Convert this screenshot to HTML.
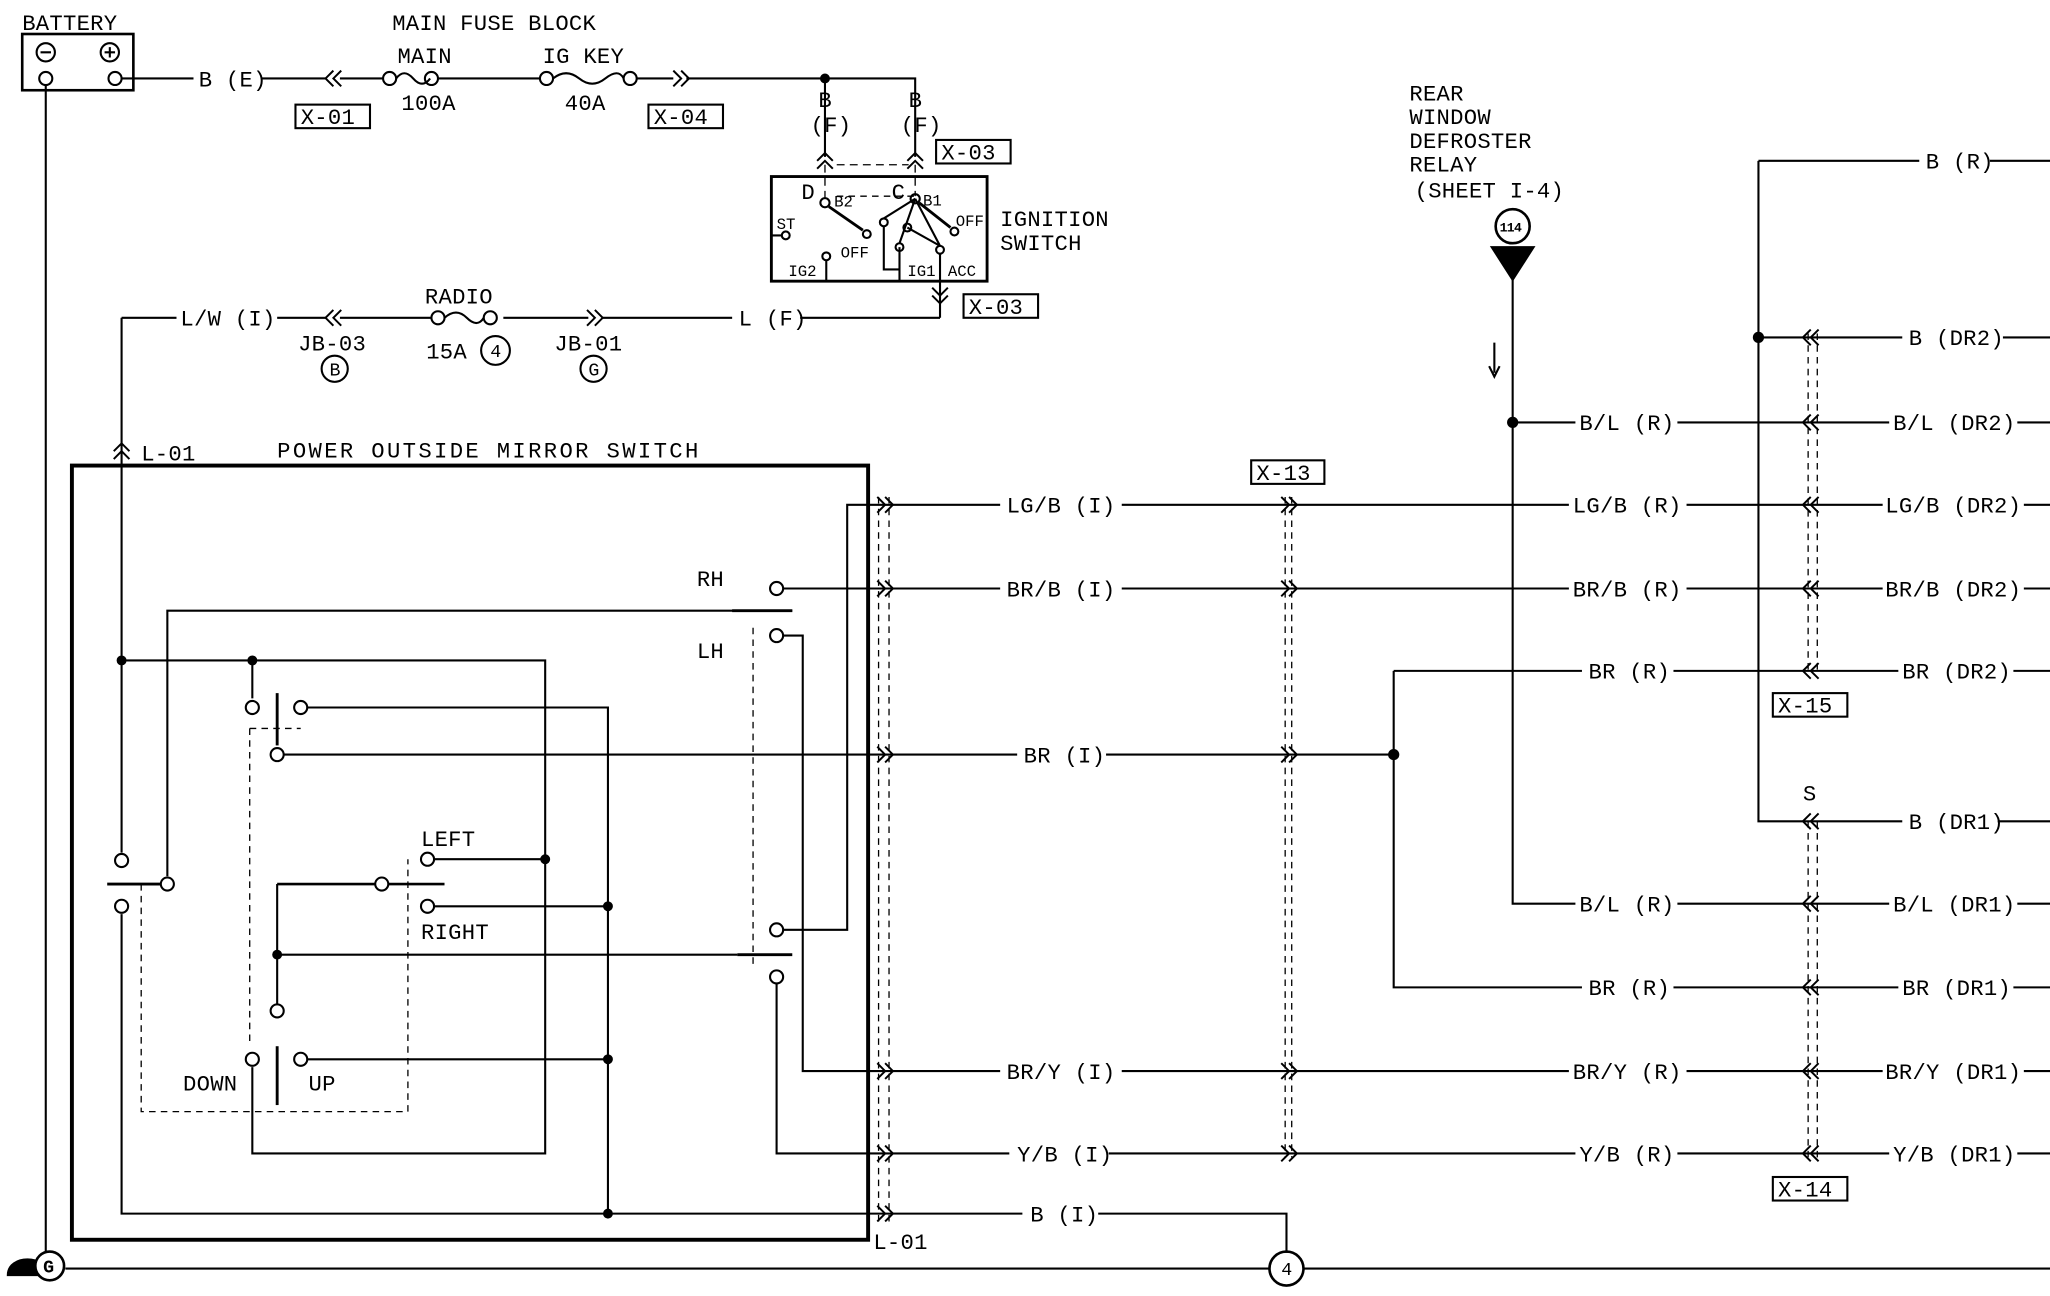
<!DOCTYPE html>
<html><head><meta charset="utf-8"><style>
html,body{margin:0;padding:0;background:#fff;}
svg{display:block;}
text{font-family:"Liberation Mono","DejaVu Sans Mono",monospace;font-size:17px;letter-spacing:0.2px;fill:#000;}
.s{font-size:12px;letter-spacing:0;}
.t{font-size:10px;letter-spacing:-0.5px;font-weight:bold;}
.m{font-size:14px;letter-spacing:0;}
</style></head><body>
<svg width="2050" height="1296" viewBox="0 0 1568 991" preserveAspectRatio="none" xmlns="http://www.w3.org/2000/svg">
<defs>
<symbol id="r" overflow="visible"><path d="M-5 -6 L1 0 L-5 6 M1 -6 L7 0 L1 6" fill="none" stroke="#000" stroke-width="1.5"/></symbol>
<symbol id="l" overflow="visible"><path d="M5 -6 L-1 0 L5 6 M-1 -6 L-7 0 L-1 6" fill="none" stroke="#000" stroke-width="1.5"/></symbol>
<symbol id="u" overflow="visible"><path d="M-6 5 L0 -1 L6 5 M-6 -1 L0 -7 L6 -1" fill="none" stroke="#000" stroke-width="1.5"/></symbol>
<symbol id="d" overflow="visible"><path d="M-6 -5 L0 1 L6 -5 M-6 1 L0 7 L6 1" fill="none" stroke="#000" stroke-width="1.5"/></symbol>
</defs>
<g fill="none" stroke="#000" stroke-width="1.6">
<rect x="17" y="26" width="85" height="43" stroke-width="2"/>
<circle cx="35" cy="40" r="7"/><circle cx="84" cy="40" r="7"/>
<path d="M31 40h8M80 40h8M84 36v8"/>
<circle cx="35" cy="60" r="5"/><circle cx="88" cy="60" r="5"/>
<path d="M35 65V968"/>
<path d="M93 60H148M200 60H250M260 60H293M335 60H413M487 60H515M525 60H700V120M631 60V120"/>
<circle cx="631" cy="60" r="3" fill="#000"/>
<circle cx="298" cy="60" r="5"/><circle cx="330" cy="60" r="5"/><path d="M303 60q6 -8 13 0t13 0"/>
<circle cx="418" cy="60" r="5"/><circle cx="482" cy="60" r="5"/><path d="M423 60q10 -8 20 0t20 0t14 0"/>
<rect x="226" y="80" width="57" height="18"/><rect x="496" y="80" width="57" height="18"/>
<rect x="716" y="107" width="57" height="18"/><rect x="737" y="225" width="57" height="18"/>
<path d="M631 126V155M700 126V150M640 126H695" stroke-dasharray="6 4" stroke-width="1"/>
<rect x="590" y="135" width="165" height="80" stroke-width="2.2"/>
<circle cx="631" cy="155" r="3.5"/><circle cx="700" cy="152" r="3.5"/>
<path d="M634 158L660 176M703 155L727 174" stroke-width="2.2"/>
<circle cx="663" cy="179" r="3"/><circle cx="730" cy="177" r="3"/><circle cx="676" cy="170" r="3"/>
<circle cx="694" cy="174" r="3"/><circle cx="688" cy="189" r="3"/><circle cx="719" cy="191" r="3"/>
<circle cx="632" cy="196" r="3"/><circle cx="601" cy="180" r="3"/>
<path d="M590 180H598M632 199V215M700 152L676 167M700 152L688 186M694 174L719 188M700 152L719 188M676 173V206H688V189M688 206V215M719 194V243"/>
<path d="M640 150H700" stroke-dasharray="5 4" stroke-width="1"/>
<path d="M93 243H135M212 243H250M260 243H330M385 243H450M460 243H560M612 243H719"/>
<circle cx="335" cy="243" r="5"/><circle cx="375" cy="243" r="5"/><path d="M340 243q9 -8 17 0t13 0"/>
<circle cx="379" cy="268" r="11"/><circle cx="256" cy="282" r="10"/><circle cx="454" cy="282" r="10"/>
<path d="M93 243V652M93 699V928H664"/>
<rect x="55" y="356" width="609" height="592" stroke-width="3"/>
<path d="M93 505H417V882H193V816M193 505V534"/>
<circle cx="93" cy="505" r="3" fill="#000"/><circle cx="193" cy="505" r="3" fill="#000"/>
<path d="M128 670V467H606"/>
<circle cx="93" cy="658" r="5"/><circle cx="93" cy="693" r="5"/><circle cx="128" cy="676" r="5"/>
<path d="M82 676H123" stroke-width="2.2"/>
<circle cx="193" cy="541" r="5"/><circle cx="230" cy="541" r="5"/><path d="M235 541H465V928"/>
<path d="M212 530V570" stroke-width="2.2"/><circle cx="212" cy="577" r="5"/><path d="M217 577H664"/>
<circle cx="327" cy="657" r="5"/><path d="M332 657H417"/><circle cx="417" cy="657" r="3" fill="#000"/>
<circle cx="327" cy="693" r="5"/><path d="M332 693H465"/><circle cx="465" cy="693" r="3" fill="#000"/>
<circle cx="292" cy="676" r="5"/><path d="M212 676H287M297 676H340" stroke-width="2"/>
<path d="M212 676V768"/><circle cx="212" cy="730" r="3" fill="#000"/><path d="M212 730H564"/>
<circle cx="212" cy="773" r="5"/><circle cx="193" cy="810" r="5"/><circle cx="230" cy="810" r="5"/>
<path d="M212 800V845" stroke-width="2.2"/><path d="M235 810H465"/><circle cx="465" cy="810" r="3" fill="#000"/><circle cx="465" cy="928" r="3" fill="#000"/>
<path d="M564 730H606" stroke-width="2.2"/><path d="M560 467H606" stroke-width="2.2"/>
<circle cx="594" cy="450" r="5"/><circle cx="594" cy="486" r="5"/><circle cx="594" cy="711" r="5"/><circle cx="594" cy="747" r="5"/>
<path d="M599 450H664M599 486H614V819H664M599 711H648V386H664M594 752V882H664"/>
<path d="M576 480V740M108 676V850H312V657M191 557H230M191 557V800" stroke-dasharray="5 4" stroke-width="1"/>
<path d="M664 386H765M858 386H1200M1290 386H1440M1548 386H1568"/>
<path d="M664 450H765M858 450H1200M1290 450H1440M1548 450H1568"/>
<path d="M1066 513H1210M1280 513H1452M1540 513H1568"/>
<path d="M664 577H778M846 577H1066M1066 513V755H1210M1280 755H1452M1540 755H1568"/>
<circle cx="1066" cy="577" r="3.5" fill="#000"/>
<path d="M1345 123H1468M1522 123H1568M1345 123V628H1455M1528 628H1568M1345 258H1455M1532 258H1568"/>
<circle cx="1345" cy="258" r="3.5" fill="#000"/>
<path d="M1157 210V691H1205M1283 691H1445M1543 691H1568M1157 323H1205M1283 323H1445M1543 323H1568"/>
<circle cx="1157" cy="323" r="3.5" fill="#000"/>
<path d="M1141 189L1173 189L1157 214Z" fill="#000"/><circle cx="1157" cy="173" r="13" stroke-width="2"/>
<path d="M1143 262V285M1139 280L1143 288L1147 280"/>
<path d="M664 819H765M858 819H1200M1290 819H1440M1548 819H1568"/>
<path d="M664 882H772M848 882H1205M1283 882H1445M1543 882H1568"/>
<path d="M664 928H782M840 928H984V958"/>
<path d="M50 970H971M997 970H1568"/><circle cx="984" cy="970" r="13" stroke-width="2"/>
<path d="M672 380V935M680 380V935M983 380V885M988 380V885M1383 255V515M1390 255V515M1383 628V885M1390 628V885" stroke-dasharray="5 4" stroke-width="1"/>
<rect x="957" y="352" width="56" height="18"/><rect x="1356" y="530" width="57" height="18"/><rect x="1356" y="900" width="57" height="18"/>
<path d="M6 975c0-16 30-16 30 0z" fill="#000"/><circle cx="38" cy="968" r="11" fill="#fff" stroke-width="2"/>
</g>
<g>
<use href="#l" x="256" y="60"/><use href="#r" x="520" y="60"/>
<use href="#u" x="631" y="124"/><use href="#u" x="700" y="124"/><use href="#d" x="719" y="225"/>
<use href="#l" x="256" y="243"/><use href="#r" x="454" y="243"/><use href="#u" x="93" y="346"/>
<use href="#r" x="676" y="386"/><use href="#r" x="676" y="450"/><use href="#r" x="676" y="577"/><use href="#r" x="676" y="819"/><use href="#r" x="676" y="882"/><use href="#r" x="676" y="928"/>
<use href="#r" x="985" y="386"/><use href="#r" x="985" y="450"/><use href="#r" x="985" y="577"/><use href="#r" x="985" y="819"/><use href="#r" x="985" y="882"/>
<use href="#l" x="1386" y="258"/><use href="#l" x="1386" y="323"/><use href="#l" x="1386" y="386"/><use href="#l" x="1386" y="450"/><use href="#l" x="1386" y="513"/>
<use href="#l" x="1386" y="628"/><use href="#l" x="1386" y="691"/><use href="#l" x="1386" y="755"/><use href="#l" x="1386" y="819"/><use href="#l" x="1386" y="882"/>
</g>
<g>
<text x="17" y="23">BATTERY</text>
<text x="300" y="23">MAIN FUSE BLOCK</text><text x="304" y="48">MAIN</text><text x="415" y="48">IG KEY</text>
<text x="307" y="84">100A</text><text x="432" y="84">40A</text>
<text x="152" y="66">B (E)</text>
<text x="230" y="95">X-01</text><text x="500" y="95">X-04</text><text x="720" y="122">X-03</text><text x="741" y="240">X-03</text>
<text x="626" y="82">B</text><text x="620" y="101">(F)</text><text x="695" y="82">B</text><text x="689" y="101">(F)</text>
<text x="613" y="152">D</text><text x="682" y="152">C</text>
<text class="s" x="638" y="158">B2</text><text class="s" x="706" y="157">B1</text>
<text class="s" x="594" y="175">ST</text><text class="s" x="731" y="173">OFF</text><text class="s" x="643" y="197">OFF</text>
<text class="s" x="603" y="211">IG2</text><text class="s" x="694" y="211">IG1</text><text class="s" x="725" y="211">ACC</text>
<text x="765" y="173">IGNITION</text><text x="765" y="191">SWITCH</text>
<text x="138" y="249">L/W (I)</text><text x="325" y="232">RADIO</text><text x="326" y="274">15A</text><text class="m" x="375" y="273">4</text>
<text x="228" y="268">JB-03</text><text class="m" x="252" y="287">B</text><text x="424" y="268">JB-01</text><text class="m" x="450" y="287">G</text>
<text x="565" y="249">L (F)</text>
<text x="1078" y="77">REAR</text><text x="1078" y="95">WINDOW</text><text x="1078" y="113">DEFROSTER</text><text x="1078" y="131">RELAY</text><text x="1082" y="151">(SHEET I-4)</text>
<text class="t" x="1147" y="177">114</text>
<text x="108" y="352">L-01</text><text x="212" y="350" style="letter-spacing:1.8px">POWER OUTSIDE MIRROR SWITCH</text>
<text x="533" y="448">RH</text><text x="533" y="503">LH</text>
<text x="322" y="647">LEFT</text><text x="322" y="718">RIGHT</text><text x="140" y="834">DOWN</text><text x="236" y="834">UP</text>
<text x="770" y="392">LG/B (I)</text><text x="770" y="456">BR/B (I)</text><text x="783" y="583">BR (I)</text><text x="770" y="825">BR/Y (I)</text><text x="778" y="888">Y/B (I)</text><text x="788" y="934">B (I)</text>
<text x="961" y="367">X-13</text><text x="1360" y="545">X-15</text><text x="1360" y="915">X-14</text>
<text x="1203" y="392">LG/B (R)</text><text x="1203" y="456">BR/B (R)</text><text x="1215" y="519">BR (R)</text><text x="1208" y="329">B/L (R)</text><text x="1208" y="697">B/L (R)</text><text x="1215" y="761">BR (R)</text><text x="1203" y="825">BR/Y (R)</text><text x="1208" y="888">Y/B (R)</text>
<text x="1473" y="129">B (R)</text><text x="1460" y="264">B (DR2)</text><text x="1448" y="329">B/L (DR2)</text><text x="1442" y="392">LG/B (DR2)</text><text x="1442" y="456">BR/B (DR2)</text><text x="1455" y="519">BR (DR2)</text>
<text x="1379" y="612">S</text><text x="1460" y="634">B (DR1)</text><text x="1448" y="697">B/L (DR1)</text><text x="1455" y="761">BR (DR1)</text><text x="1442" y="825">BR/Y (DR1)</text><text x="1448" y="888">Y/B (DR1)</text>
<text x="668" y="955">L-01</text><text class="m" x="980" y="975">4</text>
<text class="m" x="33" y="973" style="font-weight:bold">G</text>
</g>
</svg>
</body></html>
